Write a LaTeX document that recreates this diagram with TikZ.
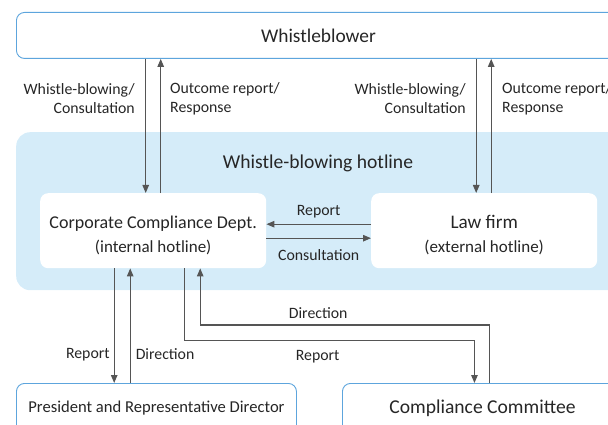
\documentclass[tikz,border=0pt]{standalone}
\usepackage{fontspec}
\setmainfont{Carlito}
\usetikzlibrary{positioning,arrows.meta}

\definecolor{edgeblue}{HTML}{5DA5DD}
\definecolor{zoneblue}{HTML}{D5ECF9}
\definecolor{inkgray}{HTML}{262626}
\definecolor{linegray}{HTML}{555555}

\begin{document}
\begin{tikzpicture}[
  x=1pt, y=-1pt,
  party/.style={rectangle, draw=edgeblue, line width=0.9pt, rounded corners=8pt,
                fill=white, text=inkgray, anchor=north west, inner sep=0pt},
  desk/.style={rectangle, fill=white, rounded corners=8pt, text=inkgray,
               anchor=north west, align=center, minimum width=226pt,
               minimum height=75pt, inner sep=0pt, text height=45pt},
  zone/.style={rectangle, fill=zoneblue, rounded corners=14pt,
               anchor=north west, inner sep=0pt},
  arr/.style={->, >={Triangle[length=8pt,width=6.5pt]}, draw=linegray,
              line width=1.1pt},
  lbl/.style={font=\fontsize{15.8}{19}\selectfont, text=inkgray, inner sep=0pt}
]

\clip (0,0) rectangle (608,425);

\node[party, minimum width=604pt, minimum height=46pt,
      font=\fontsize{19.4}{23}\selectfont]            (wb)   at (16,12)  {Whistleblower};
\node[zone, minimum width=620pt, minimum height=158pt] (hot)  at (16,132) {};
\node[text=inkgray, font=\fontsize{19.6}{23}\selectfont] (hottl) at (318,163) {Whistle-blowing hotline};
\node[desk, font=\fontsize{18}{24}\selectfont]         (ccd)  at (40,193)
  {Corporate Compliance Dept.\\{\fontsize{17}{24}\selectfont (internal hotline)}};
\node[desk, font=\fontsize{19.2}{24}\selectfont]       (law)  at (371,193)
  {Law firm\\{\fontsize{17}{24}\selectfont (external hotline)}};
\node[party, minimum width=280pt, minimum height=50pt,
      font=\fontsize{16.6}{20}\selectfont]            (pres) at (16,383)
  {President and Representative Director};
\node[party, minimum width=280pt, minimum height=50pt,
      font=\fontsize{19.6}{23}\selectfont]            (cc)   at (342,383)
  {Compliance Committee};

% whistleblower <-> hotlines
\coordinate (ccdin)  at ([xshift=-7.5pt]ccd.north);
\coordinate (ccdout) at ([xshift=7.5pt]ccd.north);
\coordinate (lawin)  at ([xshift=-8pt]law.north);
\coordinate (lawout) at ([xshift=7pt]law.north);

\draw[arr] (ccdin |- wb.south) -- (ccdin);
\draw[arr] (ccdout) -- (ccdout |- wb.south);
\draw[arr] (lawin |- wb.south) -- (lawin);
\draw[arr] (lawout) -- (lawout |- wb.south);

\node[lbl, align=right, anchor=east] (ccdinl)  at (135,99) {Whistle-blowing/\\Consultation};
\node[lbl, align=left,  anchor=west] (ccdoutl) at (170,99) {Outcome report/\\Response};
\node[lbl, align=right, anchor=east] (lawinl)  at (466,99) {Whistle-blowing/\\Consultation};
\node[lbl, align=left,  anchor=west] (lawoutl) at (502,99) {Outcome report/\\Response};

% between the two hotlines
\draw[arr] ([yshift=6.5pt]law.west) -- node[lbl, above=6pt] (repl) {Report}
  ([yshift=6.5pt]ccd.east);
\draw[arr] ([yshift=-7.5pt]ccd.east) -- node[lbl, below=11pt] (conl) {Consultation}
  ([yshift=-7.5pt]law.west);

% to management
\coordinate (rep1) at ([xshift=-39pt]ccd.south);
\coordinate (dir1) at ([xshift=-23pt]ccd.south);
\coordinate (rep2) at ([xshift=31pt]ccd.south);
\coordinate (dir2) at ([xshift=47pt]ccd.south);
\coordinate (ccin)  at ([xshift=-8pt]cc.north);
\coordinate (ccout) at ([xshift=7pt]cc.north);

\draw[arr] (rep1) -- node[lbl, pos=0.75, left=4pt] (rep1l) {Report} (rep1 |- pres.north);
\draw[arr] (dir1 |- pres.north) -- node[lbl, pos=0.25, right=5pt] (dir1l) {Direction} (dir1);
\draw[arr] (rep2) -- ++(0,72) -| node[lbl, pos=0.23, below=9pt] (rep2l) {Report} (ccin);
\draw[arr] (ccout) -- ++(0,-58) -| node[lbl, pos=0.296, above=6pt] (dir2l) {Direction} (dir2);

\end{tikzpicture}
\end{document}
